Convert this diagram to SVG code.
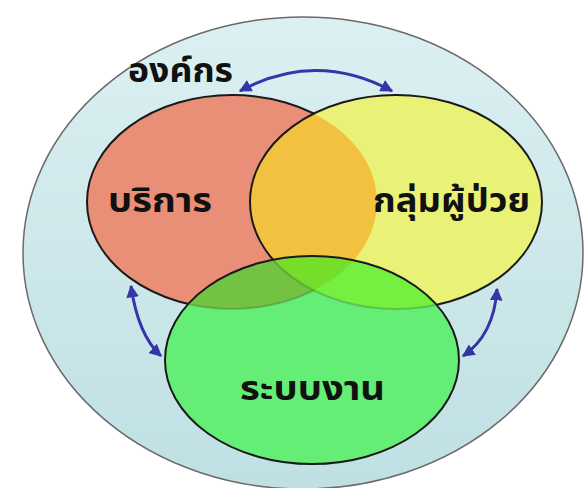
<svg xmlns="http://www.w3.org/2000/svg" width="585" height="488" viewBox="0 0 585 488">
  <style>
    .lbl { font-family: "Noto Sans Thai", "Tahoma", "Noto Sans", "DejaVu Sans", sans-serif; font-size: 34px; font-weight: bold; fill: #111; }
    .conn { fill: none; stroke: #3535a8; stroke-width: 3; }
    .edge { fill: none; stroke: #1a1a1a; stroke-width: 2; }
  </style>
  <defs>
    <linearGradient id="bg" x1="0" y1="0" x2="0" y2="1">
      <stop offset="0" stop-color="#dcf0f2"/>
      <stop offset="1" stop-color="#bfe0e3"/>
    </linearGradient>
    <marker id="ah" viewBox="0 0 10 10" refX="9" refY="5" markerWidth="4.2" markerHeight="4.2" orient="auto-start-reverse" markerUnits="strokeWidth">
      <path d="M0,0 L10,5 L0,10 z" fill="#3535a8"/>
    </marker>
    <clipPath id="cRed"><ellipse cx="232" cy="202" rx="145" ry="107"/></clipPath>
    <clipPath id="cYel"><ellipse cx="396" cy="202" rx="146" ry="107"/></clipPath>
    <mask id="mRed" maskUnits="userSpaceOnUse" x="0" y="0" width="585" height="488">
      <rect width="585" height="488" fill="#fff"/>
      <ellipse cx="312" cy="360" rx="147" ry="104" fill="#333"/>
      <ellipse cx="396" cy="202" rx="146" ry="107" fill="#000"/>
    </mask>
    <mask id="mYel" maskUnits="userSpaceOnUse" x="0" y="0" width="585" height="488">
      <rect width="585" height="488" fill="#fff"/>
      <ellipse cx="312" cy="360" rx="147" ry="104" fill="#333"/>
    </mask>
  </defs>

  <g id="organization">
    <ellipse cx="303" cy="253" rx="280" ry="236" fill="url(#bg)" stroke="#6a6a6a" stroke-width="1.5"/>
    <text class="lbl" x="128" y="82" textLength="105" lengthAdjust="spacingAndGlyphs">องค์กร</text>
  </g>

  <g id="service">
    <ellipse cx="232" cy="202" rx="145" ry="107" fill="#e98f78"/>
  </g>
  <g id="patients">
    <ellipse cx="396" cy="202" rx="146" ry="107" fill="#e9f276"/>
  </g>
  <g id="workflow">
    <ellipse cx="312" cy="360" rx="147" ry="104" fill="#64ee76"/>
  </g>

  <g id="overlaps">
    <g clip-path="url(#cRed)">
      <ellipse cx="396" cy="202" rx="146" ry="107" fill="#f2c13f"/>
      <ellipse cx="312" cy="360" rx="147" ry="104" fill="#74c244"/>
    </g>
    <g clip-path="url(#cYel)">
      <ellipse cx="312" cy="360" rx="147" ry="104" fill="#76f040"/>
      <g clip-path="url(#cRed)">
        <ellipse cx="312" cy="360" rx="147" ry="104" fill="#74de2a"/>
      </g>
    </g>
  </g>

  <g id="outlines">
    <ellipse class="edge" cx="232" cy="202" rx="145" ry="107" mask="url(#mRed)"/>
    <ellipse class="edge" cx="396" cy="202" rx="146" ry="107" mask="url(#mYel)"/>
    <ellipse class="edge" cx="312" cy="360" rx="147" ry="104"/>
  </g>

  <g id="labels">
    <text class="lbl" x="108" y="212" textLength="104" lengthAdjust="spacingAndGlyphs">บริการ</text>
    <text class="lbl" x="373" y="212" textLength="157" lengthAdjust="spacingAndGlyphs">กลุ่มผู้ป่วย</text>
    <text class="lbl" x="240" y="400" textLength="145" lengthAdjust="spacingAndGlyphs">ระบบงาน</text>
  </g>

  <g id="connectors">
    <path class="conn" d="M 240 91 Q 316 50 392 91" marker-start="url(#ah)" marker-end="url(#ah)"/>
    <path class="conn" d="M 131 286 Q 138 335 161 356" marker-start="url(#ah)" marker-end="url(#ah)"/>
    <path class="conn" d="M 497 289 Q 494 335 463 356" marker-start="url(#ah)" marker-end="url(#ah)"/>
  </g>
</svg>
